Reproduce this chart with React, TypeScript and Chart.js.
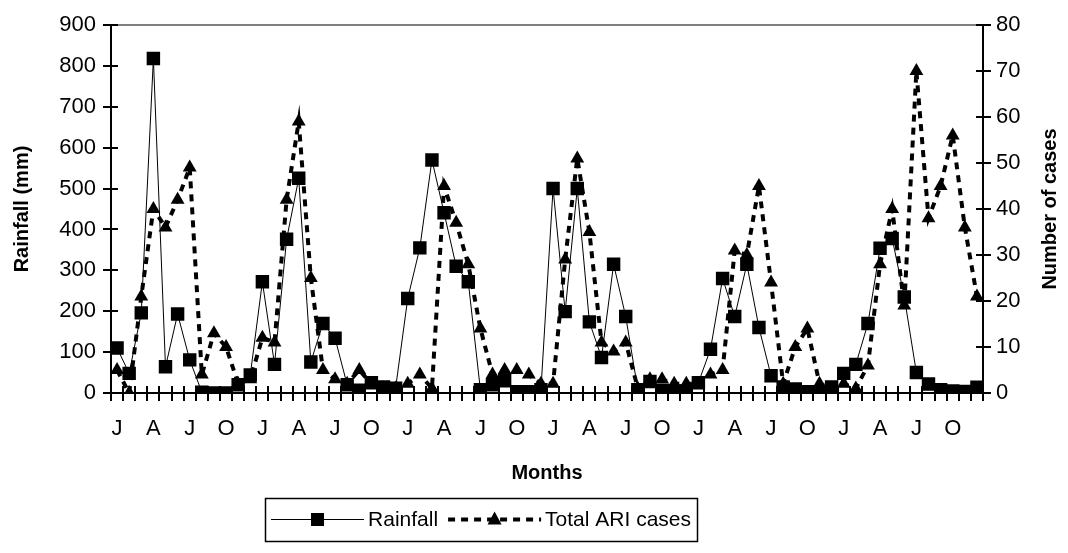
import { useEffect, useRef } from 'react';
import { Chart, registerables } from 'chart.js';

Chart.register(...registerables);

// 72 months, labelled every quarter (Jan, Apr, Jul, Oct)
const monthLabels = [
  'J', '', '', 'A', '', '', 'J', '', '', 'O', '', '',
  'J', '', '', 'A', '', '', 'J', '', '', 'O', '', '',
  'J', '', '', 'A', '', '', 'J', '', '', 'O', '', '',
  'J', '', '', 'A', '', '', 'J', '', '', 'O', '', '',
  'J', '', '', 'A', '', '', 'J', '', '', 'O', '', '',
  'J', '', '', 'A', '', '', 'J', '', '', 'O', '', '',
];

const rainfall = [
  110, 48, 196, 818, 64, 193, 81, 2, 0, 0, 20, 44,
  272, 70, 376, 525, 76, 170, 134, 20, 7, 25, 15, 12,
  231, 355, 570, 441, 310, 272, 8, 20, 30, 3, 3, 8,
  500, 199, 500, 174, 87, 315, 187, 8, 28, 7, 5, 5,
  25, 107, 280, 187, 315, 160, 42, 15, 10, 3, 3, 15,
  48, 70, 170, 354, 378, 235, 50, 22, 8, 5, 4, 14,
];

const ariCases = [
  5, 0, 21, 40, 36, 42, 49, 4, 13, 10, 2, 3,
  12, 11, 42, 59, 25, 5, 3, 2, 5, 2, 1, 1,
  2, 4, 1, 45, 37, 28, 14, 4, 5, 5, 4, 2,
  2, 29, 51, 35, 11, 9, 11, 1, 3, 3, 2, 2,
  2, 4, 5, 31, 30, 45, 24, 2, 10, 14, 2, 1,
  2, 1, 6, 28, 40, 19, 70, 38, 45, 56, 36, 21,
];

const leftTitle = 'Rainfall (mm)';
const rightTitle = 'Number of cases';
const xTitle = 'Months';
const seriesNames = ['Rainfall', 'Total ARI cases'];

const FONT = '"Liberation Sans", Arial, sans-serif';

const decor = {
  id: 'decor',
  beforeDatasetsDraw(chart: any) {
    const { ctx, chartArea: a, scales } = chart;
    ctx.save();
    ctx.strokeStyle = '#808080';
    ctx.lineWidth = 2;
    ctx.beginPath();
    ctx.moveTo(a.left, a.top);
    ctx.lineTo(a.right, a.top);
    ctx.stroke();
    ctx.strokeStyle = '#000';
    ctx.lineWidth = 2;
    ctx.beginPath();
    const xs = scales.x;
    for (let k = 0; k <= monthLabels.length; k++) {
      const px = Math.round(xs.getPixelForValue(k - 0.5));
      ctx.moveTo(px, a.bottom - 7);
      ctx.lineTo(px, a.bottom);
    }
    scales.y.ticks.forEach((t: any) => {
      const py = Math.round(scales.y.getPixelForValue(t.value));
      ctx.moveTo(a.left, py);
      ctx.lineTo(a.left + 7, py);
    });
    scales.y1.ticks.forEach((t: any) => {
      const py = Math.round(scales.y1.getPixelForValue(t.value));
      ctx.moveTo(a.right - 7, py);
      ctx.lineTo(a.right, py);
    });
    ctx.stroke();
    ctx.restore();
  },
  afterDraw(chart: any) {
    const { ctx, chartArea: a } = chart;
    ctx.save();
    // right axis title (reads bottom-to-top)
    ctx.fillStyle = '#000';
    ctx.font = `bold 20px ${FONT}`;
    ctx.textAlign = 'center';
    ctx.textBaseline = 'middle';
    ctx.translate(1050, (a.top + a.bottom) / 2);
    ctx.rotate(-Math.PI / 2);
    ctx.fillText(rightTitle, 0, 0);
    ctx.restore();

    // legend
    ctx.save();
    ctx.font = `21px ${FONT}`;
    const left = 265;
    const right = 697;
    const top = 498;
    const h = 43;
    const gap = 4;
    const pad = 6;
    const between = 10;
    const w1 = ctx.measureText(seriesNames[0]).width;
    const w2 = ctx.measureText(seriesNames[1]).width;
    const sample = (right - left - 2 * pad - 2 * gap - between - w1 - w2) / 2;
    ctx.strokeStyle = '#000';
    ctx.lineWidth = 1.5;
    ctx.strokeRect(left + 0.5, top + 0.5, right - left, h);
    const my = top + h / 2;
    // item 1
    let x0 = left + pad;
    ctx.lineWidth = 1;
    ctx.beginPath();
    ctx.moveTo(x0, my);
    ctx.lineTo(x0 + sample, my);
    ctx.stroke();
    ctx.fillStyle = '#000';
    ctx.fillRect(x0 + sample / 2 - 6.5, my - 6.5, 13, 13);
    ctx.textAlign = 'left';
    ctx.textBaseline = 'middle';
    ctx.fillText(seriesNames[0], x0 + sample + gap, my + 1);
    // item 2
    x0 = x0 + sample + gap + w1 + between;
    ctx.lineWidth = 4;
    ctx.setLineDash([7, 6]);
    ctx.beginPath();
    ctx.moveTo(x0, my);
    ctx.lineTo(x0 + sample, my);
    ctx.stroke();
    ctx.setLineDash([]);
    const tx = x0 + sample / 2;
    ctx.beginPath();
    ctx.moveTo(tx, my - 8);
    ctx.lineTo(tx + 7, my + 5);
    ctx.lineTo(tx - 7, my + 5);
    ctx.closePath();
    ctx.fill();
    ctx.fillText(seriesNames[1], x0 + sample + gap, my + 1);
    ctx.restore();
  },
};

export default function App() {
  const ref = useRef<HTMLCanvasElement | null>(null);
  useEffect(() => {
    if (!ref.current) return;
    Chart.defaults.font.family = FONT;
    Chart.defaults.color = '#000';
    const chart = new Chart(ref.current, {
      type: 'line',
      data: {
        labels: monthLabels,
        datasets: [
          {
            label: seriesNames[0],
            data: rainfall,
            yAxisID: 'y',
            borderColor: '#000',
            backgroundColor: '#000',
            borderWidth: 1,
            pointStyle: 'rect',
            pointRadius: 9.5,
            pointBorderWidth: 0,
            pointBackgroundColor: '#000',
            tension: 0,
          },
          {
            label: seriesNames[1],
            data: ariCases,
            yAxisID: 'y1',
            borderColor: '#000',
            backgroundColor: '#000',
            borderWidth: 4,
            borderDash: [7, 6],
            pointStyle: 'triangle',
            pointRadius: 8,
            pointBorderWidth: 0,
            pointBackgroundColor: '#000',
            tension: 0,
          },
        ],
      },
      options: {
        animation: false,
        responsive: false,
        maintainAspectRatio: false,
        layout: { padding: { left: 10, top: 25, right: 0, bottom: 63 } },
        plugins: { legend: { display: false }, tooltip: { enabled: false } },
        scales: {
          x: {
            type: 'category',
            offset: true,
            grid: { display: true, offset: true, drawOnChartArea: false, drawTicks: true, tickLength: 8, color: '#000', lineWidth: 2 },
            border: { display: true, color: '#000', width: 2 },
            ticks: {
              autoSkip: false,
              maxRotation: 0,
              minRotation: 0,
              padding: 15,
              font: { size: 22 },
              color: '#000',
            },
            title: { display: true, text: xTitle, font: { size: 20, weight: 'bold' }, padding: { top: 0, bottom: 5 } },
            afterFit: (s: any) => { s.height = 553 - 63 - 393; },
          },
          y: {
            type: 'linear',
            position: 'left',
            min: 0,
            max: 900,
            ticks: { stepSize: 100, padding: 7, font: { size: 22 }, color: '#000' },
            grid: { display: true, drawOnChartArea: false, drawTicks: true, tickLength: 8, color: '#000', lineWidth: 2 },
            border: { display: true, color: '#000', width: 2 },
            title: { display: true, text: leftTitle, font: { size: 20, weight: 'bold' }, padding: 0 },
            afterFit: (s: any) => { s.width = 111 - 10; },
          },
          y1: {
            type: 'linear',
            position: 'right',
            min: 0,
            max: 80,
            ticks: { stepSize: 10, padding: 5, font: { size: 22 }, color: '#000' },
            grid: { display: true, drawOnChartArea: false, drawTicks: true, tickLength: 8, color: '#000', lineWidth: 2 },
            border: { display: true, color: '#000', width: 2 },
            afterFit: (s: any) => { s.width = 1068 - 983; },
          },
        },
      },
      plugins: [decor],
    } as any);
    return () => chart.destroy();
  }, []);
  return (
    <div style={{ position: 'fixed', left: 0, top: 0, width: 1068, height: 553, background: '#fff' }}>
      <canvas ref={ref} width={1068} height={553} style={{ display: 'block' }} />
    </div>
  );
}
